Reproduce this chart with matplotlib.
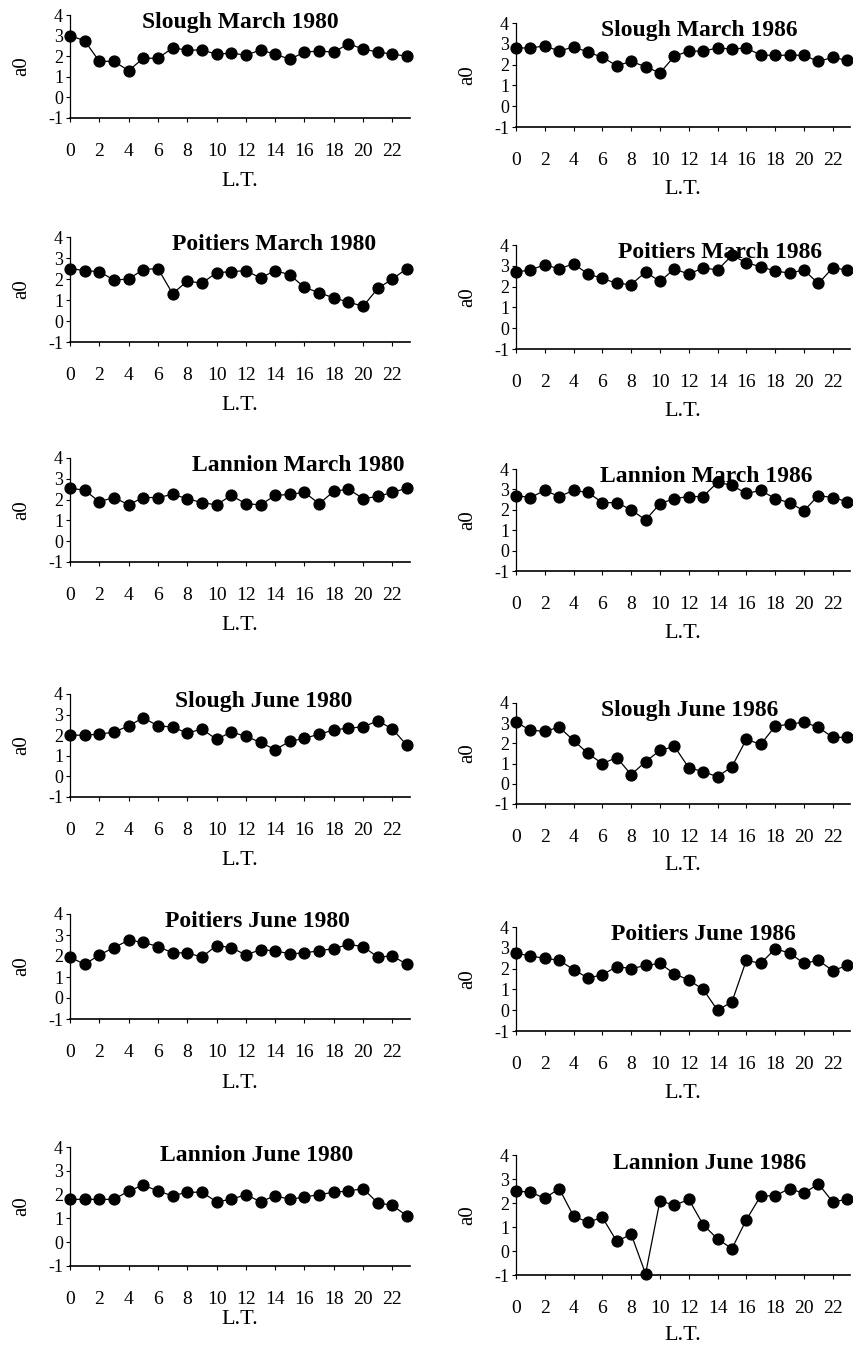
import matplotlib
matplotlib.use('Agg')
import matplotlib.pyplot as plt

# local time, hours
hours = list(range(24))

# a0 values
slough_mar80 = [3.0, 2.75, 1.75, 1.75, 1.3, 1.9, 1.9, 2.4, 2.3, 2.3, 2.1, 2.15,
                2.05, 2.3, 2.1, 1.85, 2.2, 2.25, 2.2, 2.6, 2.35, 2.2, 2.1, 2.0]
slough_mar86 = [2.8, 2.8, 2.9, 2.65, 2.85, 2.6, 2.35, 1.95, 2.15, 1.9, 1.6, 2.4,
                2.65, 2.65, 2.8, 2.75, 2.8, 2.45, 2.45, 2.45, 2.45, 2.15, 2.35, 2.2]
poitiers_mar80 = [2.5, 2.4, 2.35, 1.95, 2.0, 2.45, 2.5, 1.3, 1.9, 1.8, 2.3, 2.35,
                  2.4, 2.05, 2.4, 2.2, 1.6, 1.35, 1.1, 0.9, 0.7, 1.55, 2.0, 2.5]
poitiers_mar86 = [2.7, 2.8, 3.05, 2.85, 3.1, 2.6, 2.4, 2.15, 2.1, 2.7, 2.25, 2.85,
                  2.6, 2.9, 2.8, 3.5, 3.15, 2.95, 2.75, 2.65, 2.8, 2.15, 2.9, 2.8]
lannion_mar80 = [2.55, 2.45, 1.9, 2.1, 1.75, 2.1, 2.1, 2.25, 2.05, 1.85, 1.75, 2.2,
                 1.8, 1.75, 2.2, 2.25, 2.35, 1.8, 2.4, 2.5, 2.05, 2.15, 2.35, 2.55]
lannion_mar86 = [2.7, 2.6, 2.95, 2.65, 2.95, 2.85, 2.35, 2.35, 2.0, 1.5, 2.3, 2.55,
                 2.65, 2.65, 3.35, 3.2, 2.8, 2.95, 2.55, 2.35, 1.95, 2.7, 2.6, 2.4]
slough_jun80 = [2.0, 2.0, 2.05, 2.15, 2.45, 2.85, 2.45, 2.4, 2.1, 2.3, 1.8, 2.15,
                1.95, 1.65, 1.3, 1.7, 1.85, 2.05, 2.25, 2.35, 2.4, 2.7, 2.3, 1.5]
slough_jun86 = [3.05, 2.65, 2.6, 2.8, 2.15, 1.5, 1.0, 1.3, 0.45, 1.1, 1.65, 1.85,
                0.8, 0.6, 0.35, 0.85, 2.2, 1.95, 2.85, 2.95, 3.05, 2.8, 2.3, 2.3]
poitiers_jun80 = [1.95, 1.6, 2.05, 2.4, 2.75, 2.65, 2.45, 2.15, 2.15, 1.95, 2.5, 2.4,
                  2.05, 2.3, 2.25, 2.1, 2.15, 2.25, 2.35, 2.55, 2.45, 1.95, 2.0, 1.6]
poitiers_jun86 = [2.75, 2.6, 2.5, 2.4, 1.95, 1.55, 1.7, 2.1, 2.0, 2.15, 2.25, 1.75,
                  1.45, 1.0, 0.0, 0.4, 2.4, 2.25, 2.95, 2.75, 2.25, 2.4, 1.9, 2.15]
lannion_jun80 = [1.8, 1.8, 1.8, 1.8, 2.15, 2.4, 2.15, 1.95, 2.1, 2.1, 1.7, 1.8,
                 2.0, 1.7, 1.95, 1.8, 1.9, 2.0, 2.1, 2.15, 2.25, 1.65, 1.55, 1.1]
lannion_jun86 = [2.5, 2.45, 2.2, 2.6, 1.45, 1.2, 1.4, 0.4, 0.7, -0.95, 2.1, 1.9,
                 2.15, 1.1, 0.5, 0.1, 1.3, 2.3, 2.3, 2.6, 2.4, 2.8, 2.05, 2.15]

titles = ['Slough March 1980', 'Slough March 1986',
          'Poitiers March 1980', 'Poitiers March 1986',
          'Lannion March 1980', 'Lannion March 1986',
          'Slough June 1980', 'Slough June 1986',
          'Poitiers June 1980', 'Poitiers June 1986',
          'Lannion June 1980', 'Lannion June 1986']
series = [slough_mar80, slough_mar86, poitiers_mar80, poitiers_mar86,
          lannion_mar80, lannion_mar86, slough_jun80, slough_jun86,
          poitiers_jun80, poitiers_jun86, lannion_jun80, lannion_jun86]

yticks = [-1, 0, 1, 2, 3, 4]
xticks = list(range(0, 23, 2))

# panel boxes in pixels (top, bottom) per column
W, H = 854, 1350
left_rows = [(15, 118), (237, 342), (458, 562), (694, 797), (914, 1019), (1147, 1266)]
right_rows = [(23, 127), (245, 349), (469, 571), (703, 804), (927, 1031), (1155, 1275)]
col_x = [(70, 410), (516, 850)]
title_x = [0.50, 0.55, 0.60, 0.61, 0.67, 0.57, 0.57, 0.52, 0.55, 0.56, 0.55, 0.58]
# distance of "L.T." below the axis line, pixels
lt_drop = [64, 62, 64, 62, 64, 63, 64, 62, 64, 62, 54, 60]

plt.rcParams['font.family'] = ['Liberation Serif', 'DejaVu Serif']

fig = plt.figure(figsize=(W / 100, H / 100), dpi=100)

for i in range(12):
    row = i // 2
    col = i % 2
    top, bot = (left_rows if col == 0 else right_rows)[row]
    x0, x1 = col_x[col]
    ax = fig.add_axes([x0 / W, 1 - bot / H, (x1 - x0) / W, (bot - top) / H])
    ax.plot(hours, series[i], color='black', lw=0.9, marker='o', ms=7.8,
            clip_on=False, zorder=3)
    ax.set_xlim(0, 23.2)
    ax.set_ylim(-1, 4)
    ax.set_yticks(yticks)
    ax.set_yticklabels([str(v) for v in yticks], fontsize=13)
    ax.set_xticks(xticks)
    ax.set_xticklabels([str(v) for v in xticks], fontsize=14)
    ax.spines['top'].set_visible(False)
    ax.spines['right'].set_visible(False)
    ax.spines['left'].set_linewidth(0.9)
    ax.spines['bottom'].set_linewidth(1.2)
    ax.tick_params(axis='y', length=3, width=0.8, pad=2)
    ax.tick_params(axis='x', length=3, width=0.8, pad=15)
    ax.set_ylabel('a0', fontsize=15)
    ax.yaxis.set_label_coords(-0.115, 0.5)
    ax.set_xlabel('L.T.', fontsize=16)
    ax.xaxis.set_label_coords(0.5, -lt_drop[i] / (bot - top))
    ax.xaxis.label.set_va('center')
    ax.text(title_x[i], 0.93, titles[i], transform=ax.transAxes,
            ha='center', va='center', fontsize=17, fontweight='bold')

plt.savefig('out.png', dpi=100)
